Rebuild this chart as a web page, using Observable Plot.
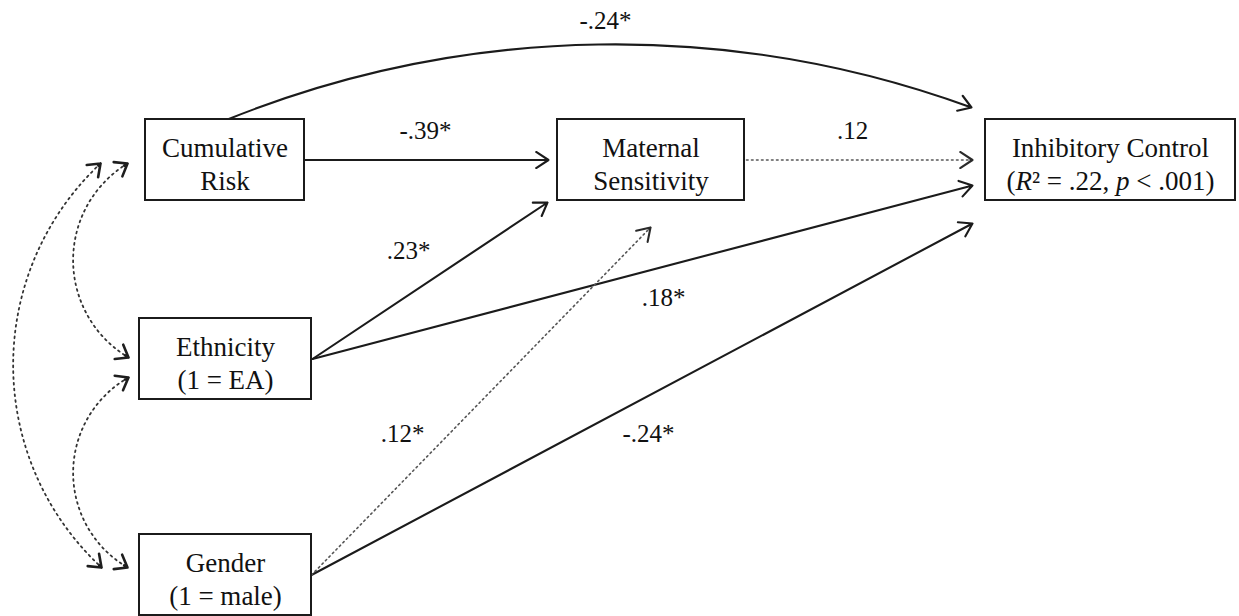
<!DOCTYPE html>
<html>
<head>
<meta charset="utf-8">
<script src="https://cdn.jsdelivr.net/npm/d3@7"></script>
<script src="https://cdn.jsdelivr.net/npm/@observablehq/plot@0.6"></script>
<style>
  html, body { margin: 0; padding: 0; background: #fff; }
  #chart svg { display: block; }
</style>
</head>
<body>
<div id="chart"></div>
<script>
// ---------------- data ----------------
const nodeIds    = ["CR", "MS", "IC", "ETH", "GEN"];
const nodeLabels = ["Cumulative\nRisk", "Maternal\nSensitivity", "Inhibitory Control\n(R² = .22, p < .001)", "Ethnicity\n(1 = EA)", "Gender\n(1 = male)"];

const pathFrom  = ["CR", "MS", "CR", "ETH", "ETH", "GEN", "GEN"];
const pathTo    = ["MS", "IC", "IC", "MS", "IC", "MS", "IC"];
const pathCoef  = ["-.39*", ".12", "-.24*", ".23*", ".18*", ".12*", "-.24*"];
const pathStyle = ["solid", "dotted", "solid", "solid", "solid", "dotted", "solid"];

const covFrom = ["CR", "CR", "ETH"];
const covTo   = ["ETH", "GEN", "GEN"];

// ---------------- layout (diagram geometry) ----------------
const W = 1239, H = 616;
const boxX1 = [145, 557, 985, 139, 139];
const boxX2 = [304, 744, 1235, 311, 311];
const boxY1 = [119, 119, 119, 318, 534];
const boxY2 = [200, 200, 200, 399, 615];

const pathX1 = [304, 746, 227, 312, 312, 311, 311];
const pathY1 = [159.5, 159.5, 119, 358.5, 358.5, 574.5, 574.5];
const pathX2 = [548, 972, 971, 547, 972, 650, 972];
const pathY2 = [159.5, 159.5, 107, 202, 185, 227, 223];
const pathBend = [0, 0, 21, 0, 0, 0, 0];
const labelX = [425, 852, 605, 408, 663, 402, 648];
const labelY = [130, 130, 20, 250, 297, 433, 433];

const covX1 = [127, 100, 128], covY1 = [163, 163, 377];
const covX2 = [128, 101, 127], covY2 = [357, 567, 567];
const covBend = [-59, -47, -60];

// ---------------- build tables ----------------
const nodes = nodeIds.map((id, i) => ({
  id, label: nodeLabels[i],
  x1: boxX1[i], x2: boxX2[i], y1: boxY1[i], y2: boxY2[i],
  cx: (boxX1[i] + boxX2[i]) / 2, cy: (boxY1[i] + boxY2[i]) / 2 + 2.5
}));
const paths = pathFrom.map((f, i) => ({
  from: f, to: pathTo[i], coef: pathCoef[i], style: pathStyle[i],
  x1: pathX1[i], y1: pathY1[i], x2: pathX2[i], y2: pathY2[i],
  bend: pathBend[i], lx: labelX[i], ly: labelY[i]
}));
const covs = covFrom.map((f, i) => ({
  from: f, to: covTo[i],
  x1: covX1[i], y1: covY1[i], x2: covX2[i], y2: covY2[i], bend: covBend[i]
}));

const INK = "#1b1b1b";
const SERIF = "Liberation Serif, Times New Roman, serif";
const XY = {x1: "x1", y1: "y1", x2: "x2", y2: "y2"};

// arrowhead only (solid), at end or start of an edge, following its arc
function headAt(d, atStart, opts) {
  const len = Math.hypot(d.x2 - d.x1, d.y2 - d.y1);
  const e = atStart ? {x1: d.x2, y1: d.y2, x2: d.x1, y2: d.y1} : d;
  return Plot.arrow([e], {...XY, bend: atStart ? -d.bend : d.bend, insetStart: len - 2, ...opts});
}

const marks = [];
// solid directed paths
paths.filter(d => d.style === "solid").forEach(d => {
  marks.push(Plot.arrow([d], {...XY, bend: d.bend, stroke: INK, strokeWidth: 2.1, headLength: 10.5, headAngle: 66}));
});
// dotted directed paths
paths.filter(d => d.style === "dotted").forEach(d => {
  marks.push(Plot.arrow([d], {...XY, bend: d.bend, stroke: "#555", strokeWidth: 1.6, strokeDasharray: "1.6,3.4", headLength: 0}));
  marks.push(headAt(d, false, {stroke: "#2a2a2a", strokeWidth: 2.1, headLength: 10.5, headAngle: 66}));
});
// dotted covariances (double-headed)
covs.forEach(d => {
  marks.push(Plot.arrow([d], {...XY, bend: d.bend, stroke: "#333", strokeWidth: 1.8, strokeDasharray: "1.8,4", headLength: 0}));
  marks.push(headAt(d, false, {stroke: "#1e1e1e", strokeWidth: 2.6, headLength: 8, headAngle: 74}));
  marks.push(headAt(d, true, {stroke: "#1e1e1e", strokeWidth: 2.6, headLength: 8, headAngle: 74}));
});
// boxes
marks.push(Plot.rect(nodes, {x1: "x1", x2: "x2", y1: "y1", y2: "y2", fill: "white", stroke: INK, strokeWidth: 2}));
// node labels
marks.push(Plot.text(nodes, {x: "cx", y: "cy", text: "label", fontSize: 27, lineHeight: 1.22, fill: "#111", fontFamily: SERIF}));
// coefficient labels
marks.push(Plot.text(paths, {x: "lx", y: "ly", text: "coef", fontSize: 25, fill: "#111", fontFamily: SERIF}));

const svg = Plot.plot({
  width: W, height: H,
  margin: 0,
  x: {domain: [0, W], range: [0, W], axis: null},
  y: {domain: [0, H], range: [0, H], axis: null},
  style: {background: "white", fontFamily: SERIF},
  marks
});

// italicize R and p in the R² line
svg.querySelectorAll("text, tspan").forEach(el => {
  if (el.childElementCount === 0 && el.textContent.includes("R²")) {
    const s = el.textContent;
    el.textContent = "";
    s.split(/(\b[Rp]\b)/).forEach(part => {
      if (!part) return;
      if (part === "R" || part === "p") {
        const t = document.createElementNS("http://www.w3.org/2000/svg", "tspan");
        t.setAttribute("font-style", "italic");
        t.textContent = part;
        el.appendChild(t);
      } else {
        el.appendChild(document.createTextNode(part));
      }
    });
  }
});

document.getElementById("chart").appendChild(svg);
</script>
</body>
</html>
